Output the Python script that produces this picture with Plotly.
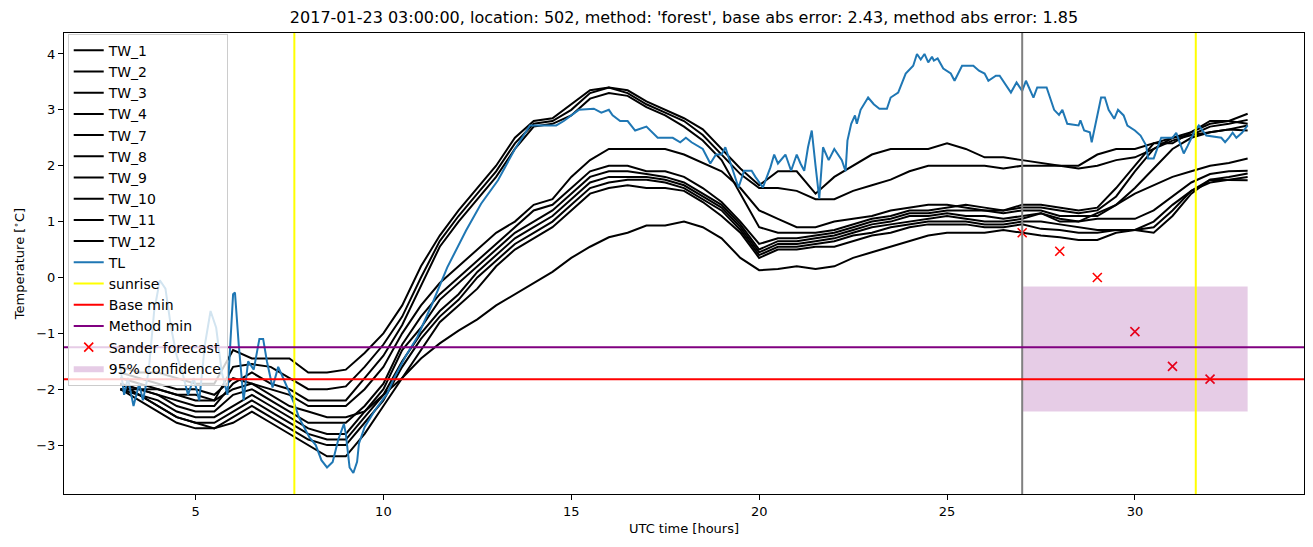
import plotly.graph_objects as go

# ---------------- data ----------------
hours = [3.0, 3.5, 4.0, 4.5, 5.0, 5.5, 6.0, 6.5, 7.0, 7.5, 8.0, 8.5, 9.0, 9.5, 10.0, 10.5,
         11.0, 11.5, 12.0, 12.5, 13.0, 13.5, 14.0, 14.5, 15.0, 15.5, 16.0, 16.5, 17.0, 17.5,
         18.0, 18.5, 19.0, 19.5, 20.0, 20.5, 21.0, 21.5, 22.0, 22.5, 23.0, 23.5, 24.0, 24.5,
         25.0, 25.5, 26.0, 26.5, 27.0, 27.5, 28.0, 28.5, 29.0, 29.5, 30.0, 30.5, 31.0, 31.5,
         32.0, 32.5, 33.0]

tw_1 = [-1.6, -1.7, -1.7, -1.8, -1.9, -1.9, -1.3, -1.45, -1.45, -1.45, -1.7, -1.7, -1.65, -1.35, -1.0, -0.5,
        0.2, 0.75, 1.2, 1.6, 2.0, 2.5, 2.8, 2.85, 3.1, 3.35, 3.4, 3.35, 3.15, 3.0,
        2.85, 2.65, 2.3, 1.95, 1.65, 1.9, 1.9, 1.5, 1.8, 2.0, 2.2, 2.3, 2.3, 2.3,
        2.4, 2.3, 2.15, 2.15, 2.1, 2.05, 2.0, 2.0, 2.2, 2.3, 2.3, 2.4, 2.4, 2.6,
        2.8, 2.8, 2.75]
tw_2 = [-1.8, -1.9, -2.0, -2.1, -2.1, -2.2, -1.6, -1.55, -1.6, -1.8, -2.0, -2.0, -1.95, -1.6, -1.2, -0.7,
        0.0, 0.65, 1.1, 1.5, 1.9, 2.4, 2.75, 2.8, 3.0, 3.3, 3.4, 3.3, 3.1, 2.95,
        2.8, 2.55, 2.2, 1.85, 1.6, 1.6, 1.55, 1.4, 1.4, 1.55, 1.65, 1.75, 1.9, 2.0,
        2.0, 2.0, 2.0, 1.95, 2.0, 2.0, 2.0, 1.95, 2.0, 2.1, 2.15, 2.3, 2.45, 2.55,
        2.6, 2.65, 2.63]
tw_3 = [-1.9, -2.0, -2.1, -2.2, -2.3, -2.3, -1.9, -1.7, -1.9, -2.0, -2.2, -2.2, -2.2, -1.8, -1.4, -0.85,
        -0.15, 0.55, 1.0, 1.4, 1.8, 2.3, 2.7, 2.75, 2.9, 3.2, 3.3, 3.25, 3.05, 2.9,
        2.7, 2.45, 2.1, 1.5, 0.9, 0.8, 0.8, 0.8, 0.85, 0.95, 1.05, 1.1, 1.2, 1.2,
        1.25, 1.3, 1.25, 1.2, 1.25, 1.25, 1.2, 1.15, 1.2, 1.45, 1.9, 2.3, 2.5, 2.55,
        2.7, 2.75, 2.82]
tw_4 = [-1.7, -1.8, -1.9, -2.0, -2.0, -2.1, -1.8, -1.9, -2.0, -2.1, -2.3, -2.3, -2.3, -2.0, -1.6, -1.0,
        -0.5, -0.1, 0.2, 0.5, 0.8, 1.0, 1.3, 1.4, 1.8, 2.1, 2.3, 2.3, 2.3, 2.3,
        2.2, 2.05, 1.9, 1.6, 1.2, 1.05, 0.9, 0.9, 1.0, 1.05, 1.1, 1.2, 1.25, 1.3,
        1.3, 1.25, 1.2, 1.2, 1.3, 1.3, 1.25, 1.2, 1.25, 1.6, 2.0, 2.4, 2.5, 2.6,
        2.75, 2.8, 2.93]
tw_7 = [-1.9, -2.0, -2.1, -2.3, -2.4, -2.4, -2.1, -2.0, -2.2, -2.4, -2.6, -2.6, -2.6, -2.3, -1.9, -1.2,
        -0.7, -0.3, 0.0, 0.3, 0.6, 0.9, 1.2, 1.3, 1.6, 1.9, 2.0, 2.0, 1.9, 1.9,
        1.8, 1.6, 1.35, 1.0, 0.6, 0.7, 0.7, 0.75, 0.8, 0.9, 1.0, 1.05, 1.15, 1.15,
        1.2, 1.2, 1.2, 1.15, 1.2, 1.2, 1.1, 1.1, 1.1, 1.3, 1.6, 1.95, 2.3, 2.5,
        2.6, 2.65, 2.72]
tw_8 = [-2.0, -2.1, -2.2, -2.4, -2.5, -2.5, -2.3, -2.1, -2.3, -2.5, -2.7, -2.8, -2.8, -2.4, -2.0, -1.3,
        -0.9, -0.4, -0.1, 0.2, 0.5, 0.8, 1.0, 1.2, 1.5, 1.8, 1.9, 1.9, 1.85, 1.8,
        1.7, 1.5, 1.3, 0.95, 0.5, 0.65, 0.65, 0.7, 0.75, 0.85, 0.95, 1.0, 1.1, 1.1,
        1.15, 1.1, 1.1, 1.05, 1.1, 1.15, 1.05, 1.0, 1.15, 1.3, 1.5, 1.65, 1.8, 1.9,
        2.0, 2.05, 2.13]
tw_9 = [-2.0, -2.1, -2.3, -2.5, -2.6, -2.6, -2.4, -2.2, -2.4, -2.6, -2.8, -2.9, -2.9, -2.5, -2.1, -1.5,
        -1.0, -0.6, -0.3, 0.1, 0.4, 0.7, 0.9, 1.1, 1.4, 1.7, 1.8, 1.8, 1.8, 1.75,
        1.65, 1.45, 1.25, 0.9, 0.45, 0.6, 0.6, 0.65, 0.7, 0.8, 0.9, 0.95, 1.0, 1.05,
        1.1, 1.05, 1.0, 1.0, 1.05, 1.15, 1.0, 1.0, 1.05, 1.05, 1.05, 1.2, 1.45, 1.7,
        1.85, 1.9, 1.91]
tw_10 = [-1.9, -2.1, -2.3, -2.5, -2.6, -2.7, -2.5, -2.3, -2.5, -2.7, -2.9, -3.0, -3.0, -2.6, -2.2, -1.6,
         -1.1, -0.7, -0.4, 0.0, 0.3, 0.6, 0.8, 1.0, 1.3, 1.6, 1.7, 1.75, 1.75, 1.7,
         1.6, 1.4, 1.2, 0.85, 0.4, 0.55, 0.55, 0.6, 0.65, 0.75, 0.8, 0.9, 0.95, 1.0,
         1.0, 1.0, 0.95, 0.95, 1.0, 1.0, 0.95, 0.9, 0.85, 0.85, 0.85, 0.8, 1.1, 1.5,
         1.75, 1.8, 1.86]
tw_11 = [-2.0, -2.2, -2.4, -2.6, -2.7, -2.7, -2.6, -2.4, -2.6, -2.8, -3.0, -3.2, -3.2, -2.8, -2.3, -1.8,
         -1.3, -0.8, -0.5, -0.2, 0.2, 0.5, 0.7, 0.9, 1.2, 1.5, 1.6, 1.65, 1.6, 1.6,
         1.55, 1.35, 1.1, 0.8, 0.35, 0.5, 0.5, 0.55, 0.55, 0.65, 0.75, 0.8, 0.9, 0.95,
         0.95, 0.95, 0.9, 0.9, 0.95, 0.87, 0.85, 0.8, 0.8, 0.85, 0.85, 0.9, 1.2, 1.55,
         1.7, 1.75, 1.80]
tw_12 = [-2.0, -2.0, -2.0, -2.1, -2.2, -2.2, -2.0, -1.9, -2.1, -2.3, -2.4, -2.5, -2.5, -2.4, -2.1, -1.8,
         -1.45, -1.18, -0.95, -0.75, -0.5, -0.3, -0.1, 0.1, 0.35, 0.55, 0.72, 0.8, 0.93, 0.93,
         1.0, 0.9, 0.7, 0.35, 0.13, 0.15, 0.2, 0.15, 0.2, 0.35, 0.45, 0.55, 0.65, 0.75,
         0.8, 0.8, 0.8, 0.85, 0.8, 0.75, 0.72, 0.67, 0.67, 0.8, 0.85, 1.0, 1.3, 1.55,
         1.75, 1.75, 1.74]

tw_names = ["TW_1", "TW_2", "TW_3", "TW_4", "TW_7", "TW_8", "TW_9", "TW_10", "TW_11", "TW_12"]
tw_values = [tw_1, tw_2, tw_3, tw_4, tw_7, tw_8, tw_9, tw_10, tw_11, tw_12]

tl_hours = [3.0, 3.1, 3.2, 3.35, 3.5, 3.6, 3.75, 3.9, 4.05, 4.2, 4.35, 4.5, 4.65, 4.8, 4.95, 5.1,
            5.25, 5.4, 5.55, 5.7, 5.85, 6.0, 6.05, 6.15, 6.28, 6.4, 6.55, 6.7, 6.8, 6.9, 7.05, 7.2,
            7.3, 7.4, 7.63, 7.75, 8.03, 8.2, 8.35, 8.5, 8.65, 8.8, 8.95, 9.0, 9.1, 9.2, 9.3, 9.35,
            9.5, 9.77, 10.1, 10.3, 10.6, 10.9, 11.3, 11.7, 12.2, 12.6, 13.05, 13.5, 13.9, 14.6,
            14.8, 15.2, 15.6, 15.8, 16.0, 16.1, 16.3, 16.5, 16.7, 17.0, 17.1, 17.3, 17.7, 17.9,
            18.05, 18.2, 18.5, 18.7, 18.85, 19.0, 19.1, 19.3, 19.45, 19.6, 19.8, 19.9, 20.1, 20.3,
            20.4, 20.5, 20.7, 20.85, 21.0, 21.1, 21.2, 21.3, 21.4, 21.5, 21.6, 21.7, 21.85, 22.0,
            22.2, 22.3, 22.35, 22.45, 22.55, 22.6, 22.7, 22.9, 23.05, 23.2, 23.4, 23.5, 23.7, 23.9,
            24.1, 24.2, 24.3, 24.4, 24.5, 24.6, 24.65, 24.75, 24.9, 25.1, 25.2, 25.4, 25.7, 25.85,
            26.0, 26.1, 26.3, 26.4, 26.7, 26.85, 27.0, 27.1, 27.3, 27.4, 27.65, 27.85, 27.98, 28.07,
            28.2, 28.5, 28.55, 28.65, 28.8, 28.85, 28.97, 29.1, 29.2, 29.3, 29.45, 29.55, 29.7, 29.8,
            30.0, 30.15, 30.3, 30.35, 30.5, 30.7, 31.0, 31.1, 31.2, 31.3, 31.4, 31.6, 31.7, 31.9,
            32.3, 32.4, 32.5, 32.6, 32.7, 32.85, 33.0]
tl_temp = [-1.6, -2.1, -1.8, -2.3, -1.9, -2.2, -1.7, -0.6, -0.05, -0.2, -0.9, -1.4, -1.7, -2.1, -1.8, -2.2,
           -1.2, -0.6, -0.9, -1.7, -2.1, -0.3, -0.27, -1.2, -2.2, -1.5, -1.65, -1.1, -1.1, -1.5, -1.97, -1.6,
           -1.75, -1.9, -2.26, -2.5, -2.86, -3.0, -3.27, -3.4, -3.3, -2.9, -2.62, -2.8, -3.4, -3.5, -3.3, -2.97,
           -2.68, -2.38, -2.08, -1.78, -1.4, -1.07, -0.47, 0.18, 0.84, 1.32, 1.74, 2.3, 2.72, 2.72,
           2.8, 3.0, 3.02, 2.95, 3.0, 2.9, 2.8, 2.8, 2.63, 2.7, 2.63, 2.5, 2.5, 2.42,
           2.5, 2.42, 2.3, 2.04, 2.2, 2.2, 2.33, 1.91, 1.61, 1.91, 1.91, 1.8, 1.61, 1.97,
           2.2, 2.04, 2.2, 1.91, 2.2, 2.04, 1.91, 2.33, 2.63, 2.0, 1.41, 2.33, 2.1, 2.3,
           2.1, 1.9, 2.45, 2.75, 2.9, 2.75, 3.0, 3.22, 3.1, 3.02, 3.02, 3.22, 3.31, 3.65,
           3.79, 4.0, 3.9, 4.0, 3.85, 3.95, 3.88, 3.92, 3.74, 3.65, 3.52, 3.79, 3.79, 3.7,
           3.65, 3.52, 3.61, 3.61, 3.31, 3.49, 3.34, 3.52, 3.22, 3.4, 3.4, 3.0, 2.91, 3.0,
           2.75, 2.72, 2.81, 2.63, 2.6, 2.42, 2.81, 3.22, 3.22, 3.0, 2.84, 3.0, 2.9, 2.72,
           2.63, 2.54, 2.36, 2.13, 2.13, 2.5, 2.5, 2.59, 2.4, 2.22, 2.35, 2.63, 2.72, 2.54,
           2.5, 2.42, 2.5, 2.59, 2.5, 2.59, 2.72]

sunrise_hours = [7.63, 31.62]
forecast_hour = 27.0
base_min = -1.82
method_min = -1.25

sander_hours = [27, 28, 29, 30, 31, 32]
sander_temp = [0.80, 0.47, 0.0, -0.97, -1.59, -1.82]

conf_start, conf_end = 27.0, 33.0
conf_low, conf_high = -2.40, -0.16

title_text = ("2017-01-23 03:00:00, location: 502, method: 'forest', "
              "base abs error: 2.43, method abs error: 1.85")

# ---------------- figure ----------------
FONT = "DejaVu Sans"
fig = go.Figure()

rank = 1
for name, vals in zip(tw_names, tw_values):
    fig.add_trace(go.Scatter(x=hours, y=vals, mode="lines", name=name,
                             line=dict(color="black", width=2),
                             legendgroup=name, legendrank=rank))
    rank += 1

fig.add_trace(go.Scatter(x=tl_hours, y=tl_temp, mode="lines", name="TL",
                         line=dict(color="#1f77b4", width=2),
                         legendgroup="TL", legendrank=rank))
rank += 1

shapes = []
# forecast time (gray, no legend)
shapes.append(dict(type="line", xref="x", yref="paper", x0=forecast_hour, x1=forecast_hour,
                   y0=0, y1=1, line=dict(color="gray", width=2), layer="above"))
for i, sr in enumerate(sunrise_hours):
    shapes.append(dict(type="line", xref="x", yref="paper", x0=sr, x1=sr, y0=0, y1=1,
                       line=dict(color="yellow", width=2), layer="above",
                       name="sunrise", showlegend=(i == 0), legendgroup="sunrise",
                       legendrank=12))
shapes.append(dict(type="line", xref="paper", yref="y", x0=0, x1=1, y0=base_min, y1=base_min,
                   line=dict(color="red", width=2), layer="above",
                   name="Base min", showlegend=True, legendgroup="base", legendrank=13))
shapes.append(dict(type="line", xref="paper", yref="y", x0=0, x1=1, y0=method_min, y1=method_min,
                   line=dict(color="purple", width=2), layer="above",
                   name="Method min", showlegend=True, legendgroup="method", legendrank=14))

fig.add_trace(go.Scatter(x=sander_hours, y=sander_temp, mode="markers", name="Sander forecast",
                         marker=dict(symbol="x-thin", size=9, color="red",
                                     line=dict(color="red", width=1.6)),
                         legendgroup="sander", legendrank=15))
fig.add_trace(go.Scatter(x=[conf_start, conf_end, conf_end, conf_start, conf_start],
                         y=[conf_low, conf_low, conf_high, conf_high, conf_low],
                         mode="lines", fill="toself", fillcolor="rgba(128,0,128,0.2)",
                         line=dict(width=0), name="95% confidence",
                         legendgroup="conf", legendrank=16))

fig.update_layout(
    width=1313, height=547,
    margin=dict(l=64, r=9, t=33, b=53),
    paper_bgcolor="white", plot_bgcolor="white",
    font=dict(family=FONT, size=13, color="black"),
    shapes=shapes,
    title=dict(text=title_text, x=0.5, xref="paper", xanchor="center",
               y=1 - 17 / 547, yanchor="middle", font=dict(size=16, family=FONT)),
    legend=dict(x=0.003, y=0.9985, xanchor="left", yanchor="top",
                bgcolor="rgba(255,255,255,0.8)", bordercolor="#cccccc", borderwidth=1,
                font=dict(size=14, family=FONT), tracegroupgap=0,
                itemwidth=30),
    showlegend=True,
)
fig.update_xaxes(range=[1.5, 34.5], tickvals=[5, 10, 15, 20, 25, 30],
                 showgrid=False, zeroline=False, showline=True, linecolor="black",
                 linewidth=1, mirror=True, ticks="outside", ticklen=5, tickcolor="black",
                 title=dict(text="UTC time [hours]", font=dict(size=13), standoff=6),
                 tickfont=dict(size=13))
fig.update_yaxes(range=[-3.875, 4.375], tickvals=[-3, -2, -1, 0, 1, 2, 3, 4],
                 showgrid=False, zeroline=False, showline=True, linecolor="black",
                 linewidth=1, mirror=True, ticks="outside", ticklen=5, tickcolor="black",
                 title=dict(text="Temperature [<sup>∘</sup>C]", font=dict(size=13), standoff=8),
                 tickfont=dict(size=13))

fig.write_html("out.html")
